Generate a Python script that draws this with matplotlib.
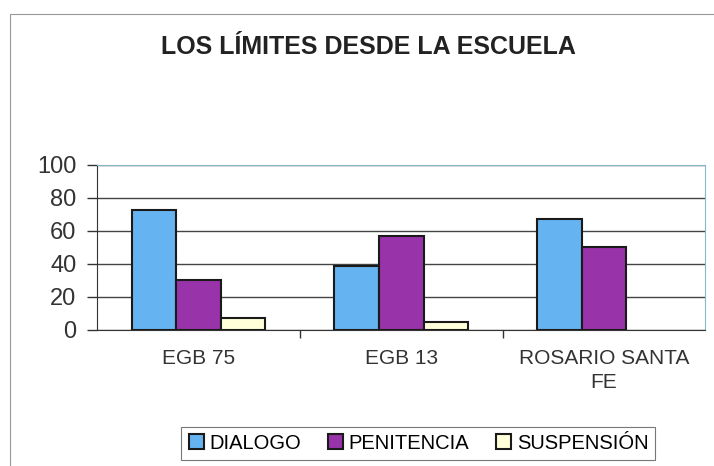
import matplotlib.pyplot as plt
import numpy as np
from matplotlib.patches import Rectangle

categories = ["EGB 75", "EGB 13", "ROSARIO SANTA\nFE"]
dialogo = [73, 39, 67]
penitencia = [30, 57, 50]
suspension = [7, 5, 0]
series_names = ["DIALOGO", "PENITENCIA", "SUSPENSIÓN"]
colors = ["#66b3f2", "#9933aa", "#ffffd9"]

plt.rcParams["font.family"] = ["Liberation Sans", "DejaVu Sans"]

fig = plt.figure(figsize=(7.14, 4.66), dpi=100)
ax = fig.add_axes([0.136, 0.292, 0.852, 0.354])

x = np.arange(len(categories))
width = 0.22
for i, (values, name, color) in enumerate(zip([dialogo, penitencia, suspension], series_names, colors)):
    lw = [1.5 if v > 0 else 0 for v in values]
    ax.bar(x + (i - 1) * width, values, width=width, color=color, edgecolor="#1a1a1a",
           linewidth=lw, label=name, zorder=3)

ax.set_xlim(-0.5, 2.5)
ax.set_ylim(0, 100)
ax.set_yticks(range(0, 101, 20))
ax.tick_params(axis="y", labelsize=17, length=7, width=1, pad=8, colors="#333333")
ax.set_xticks(x)
ax.set_xticklabels(categories, fontsize=15, linespacing=1.3, color="#333333")
ax.tick_params(axis="x", length=0, pad=14)
ax.set_xticks([0.5, 1.5], minor=True)
ax.tick_params(axis="x", which="minor", length=6, width=1, color="#333333")
ax.yaxis.grid(True, color="#444444", linewidth=1, zorder=0)
for side in ["top", "right"]:
    ax.spines[side].set_color("#88b8c8")
ax.spines["left"].set_color("#333333")
ax.spines["bottom"].set_color("#333333")

fig.text(0.516, 0.899, "LOS LÍMITES DESDE LA ESCUELA", ha="center", va="center",
         fontsize=18, fontweight="bold", color="#222222")

leg = fig.legend(loc="center", bbox_to_anchor=(0.586, 0.049), ncol=3, fontsize=14.5,
                 frameon=True, fancybox=False, edgecolor="#555555", handlelength=0.75,
                 handleheight=0.75, handletextpad=0.3, columnspacing=1.3, borderpad=0.35)
leg.get_frame().set_linewidth(0.8)
for h in leg.legend_handles:
    h.set_linewidth(1.5)
    h.set_edgecolor("#1a1a1a")

fig.patches.append(Rectangle((10 / 714, -0.01), 0.99, 1 - 14 / 466 + 0.01, transform=fig.transFigure,
                             fill=False, edgecolor="#999999", linewidth=0.8))

fig.savefig("out.png", dpi=100)
